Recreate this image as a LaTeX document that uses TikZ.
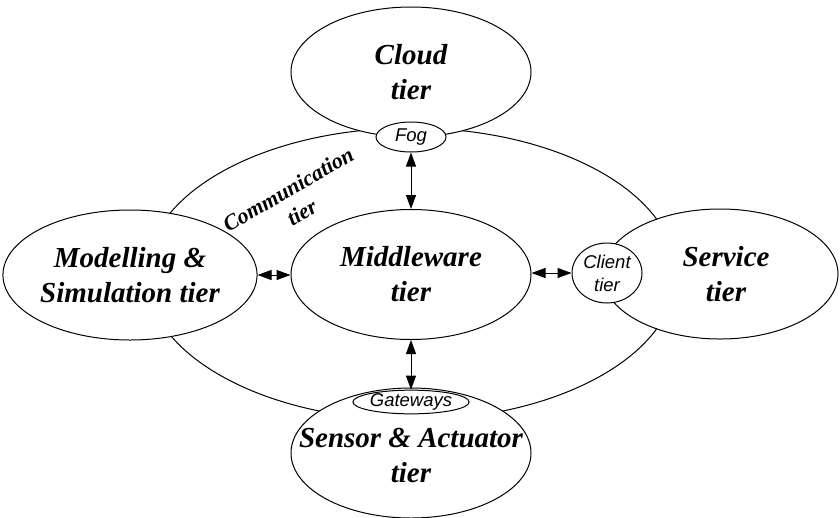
\documentclass[tikz,border=0pt]{standalone}
\usepackage{fontspec}
\setmainfont{Liberation Serif}
\newfontfamily\arialfont{Liberation Sans}
\usetikzlibrary{shapes.geometric,arrows.meta}
\begin{document}
\begin{tikzpicture}[x=1pt,y=-1pt,
  tier/.style={draw,ellipse,fill=white,line width=1pt,inner sep=0pt,
    minimum width=240pt,minimum height=130pt,align=center,
    font=\fontsize{29}{35}\selectfont\bfseries\itshape},
  tiertext/.style={inner sep=0pt,align=center,
    font=\fontsize{29}{35}\selectfont\bfseries\itshape},
  small/.style={draw,ellipse,fill=white,line width=1pt,inner sep=0pt,align=center,
    font=\arialfont\itshape\fontsize{18.5}{23}\selectfont},
  tip/.tip={Triangle[length=14pt,width=10pt]},
  link/.style={line width=1pt,tip-tip}]
\useasboundingbox (0,0) rectangle (840,517);
\node[draw,ellipse,line width=1pt,minimum width=530pt,minimum height=292pt,inner sep=0pt] (ring) at (411,274) {};
\node[tier] (cloud) at (411,72) {Cloud\\tier};
\node[tier] (model) at (130,275) {Modelling \&\\Simulation tier};
\node[tier] (mid) at (411,274.5) {Middleware\\tier};
\node[tier,minimum width=236pt] (serv) at (720,274) {\hspace*{12pt}Service\\\hspace*{12pt}tier};
\node[tier] (sens) at (411,453) {};
\node[tiertext] (senstext) at (411,455) {Sensor \& Actuator\\tier};
\node[small,minimum width=70pt,minimum height=30pt] (fog) at (411,137) {Fog};
\node[small,minimum width=70pt,minimum height=60pt] (client) at (607,273) {Client\\tier};
\node[small,minimum width=105pt,minimum height=20pt] (gate) at (411,402) {Gateways};
\node[rotate=30,align=center,font=\fontsize{22}{27}\selectfont\bfseries\itshape] (comm) at (295,201) {Communication\\tier};
\draw[link] (fog.south) -- (mid.north);
\draw[link] (mid.south) -- (gate.north);
\draw[link] (model.east) -- (model.east -| mid.west);
\draw[link] (client.west -| mid.east) -- (client.west);
\end{tikzpicture}
\end{document}
